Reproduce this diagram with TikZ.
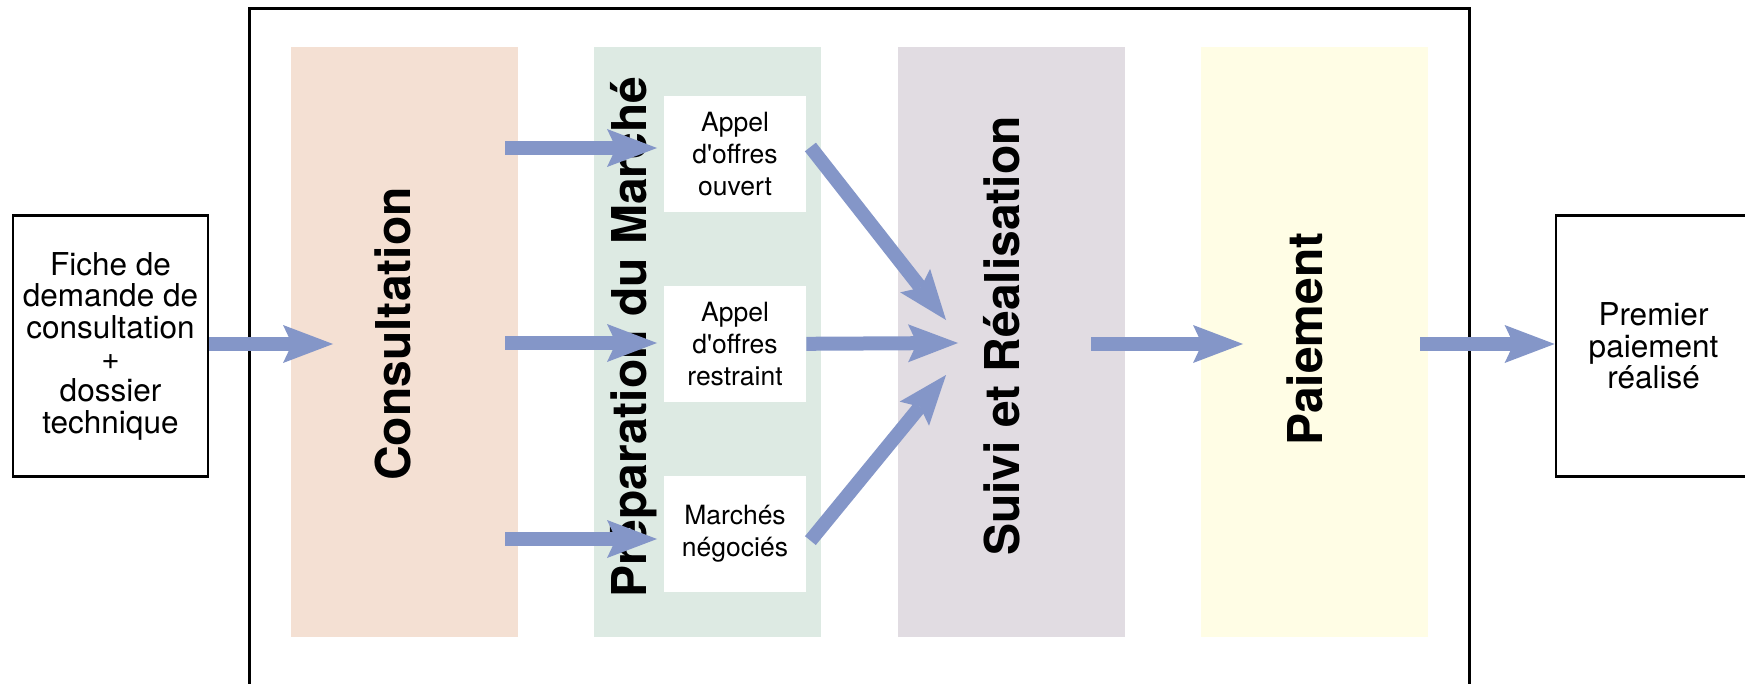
\documentclass[tikz,border=0pt]{standalone}
\usepackage{fontspec}
\setmainfont{TeX Gyre Heros}
\usepackage{tikz}
\usetikzlibrary{arrows.meta,positioning}

\definecolor{consultfill}{HTML}{F4E0D3}
\definecolor{prepfill}{HTML}{DDEAE3}
\definecolor{suivifill}{HTML}{E1DCE2}
\definecolor{paiefill}{HTML}{FFFDE5}
\definecolor{flechebleu}{HTML}{8496C8}

\begin{document}
\begin{tikzpicture}[x=0.5pt, y=-0.5pt,
    every node/.style={font=\fontsize{13.25}{16}\selectfont},
    phase/.style={minimum width=113.5pt, minimum height=295pt, inner sep=0pt},
    titre/.style={rotate=90, anchor=base, font=\fontsize{24}{28}\selectfont\bfseries},
    etape/.style={fill=white, minimum width=71pt, minimum height=58pt, inner sep=0pt, align=center},
    doc/.style={draw, line width=1.4pt, minimum width=97.5pt, minimum height=130.5pt, inner sep=0pt, align=center,
      font=\fontsize{15.75}{15.8}\selectfont},
    fleche/.style={draw=flechebleu, line width=7pt, -{Stealth[length=25pt, width=19pt, inset=4.5pt, line width=0pt]}}]
    \useasboundingbox (0,0) rectangle (1745,684);
    \clip (0,0) rectangle (1745,684);

    % cadre
    \draw[line width=1.5pt] (249,9) rectangle (1469,720);

    % colonnes
    \node[phase, fill=consultfill] (consult) at (404.5,342) {};
    \node[phase, fill=prepfill, right=37.75pt of consult] (prep) {};
    \node[phase, fill=suivifill, right=37.75pt of prep] (suivi) {};
    \node[phase, fill=paiefill, right=37.75pt of suivi] (paie) {};

    \node[titre] (tconsult) at (410.5,334) {Consultation};
    \node[titre] (tprep) at (646,337) {Préparation du Marché};
    \node[titre] (tsuivi) at (1019.5,336) {Suivi et Réalisation};
    \node[titre] (tpaie) at (1322,339) {Paiement};

    % types de marche
    \node[etape] (ouvert) at (735,154) {Appel\\d\textquotesingle offres\\ouvert};
    \node[etape, below=36.5pt of ouvert] (restreint) {Appel\\d\textquotesingle offres\\restraint};
    \node[etape, below=36.5pt of restreint] (negocie) {Marchés\\négociés};

    % entree / sortie
    \node[doc] (fiche) at (110.5,346) {Fiche de\\demande de\\consultation\\+\\dossier\\technique};
    \node[doc] (premier) at (1653.5,346) {Premier\\paiement\\réalisé};

    % fleches
    \coordinate (e1) at (333,344);
    \draw[fleche] (fiche.east |- e1) -- (e1);

    \foreach \n/\y in {1/148,2/343,3/539} {
      \coordinate (d\n) at (505,\y);
      \coordinate (f\n) at (657,\y);
      \draw[fleche] (d\n) -- (f\n);
    }

    \coordinate (s1) at (946,320);
    \coordinate (s2) at (958,343);
    \coordinate (s3) at (946,375);
    \draw[fleche] ([shift={(4,-7)}]ouvert.east) -- (s1);
    \draw[fleche] (restreint.east) -- (s2);
    \draw[fleche] ([shift={(4,7)}]negocie.east) -- (s3);

    \coordinate (p0) at (1091,344);
    \coordinate (p1) at (1243,344);
    \draw[fleche] (p0) -- (p1);

    \coordinate (r0) at (1420,344);
    \draw[fleche] (r0) -- (premier.west |- r0);
\end{tikzpicture}
\end{document}
